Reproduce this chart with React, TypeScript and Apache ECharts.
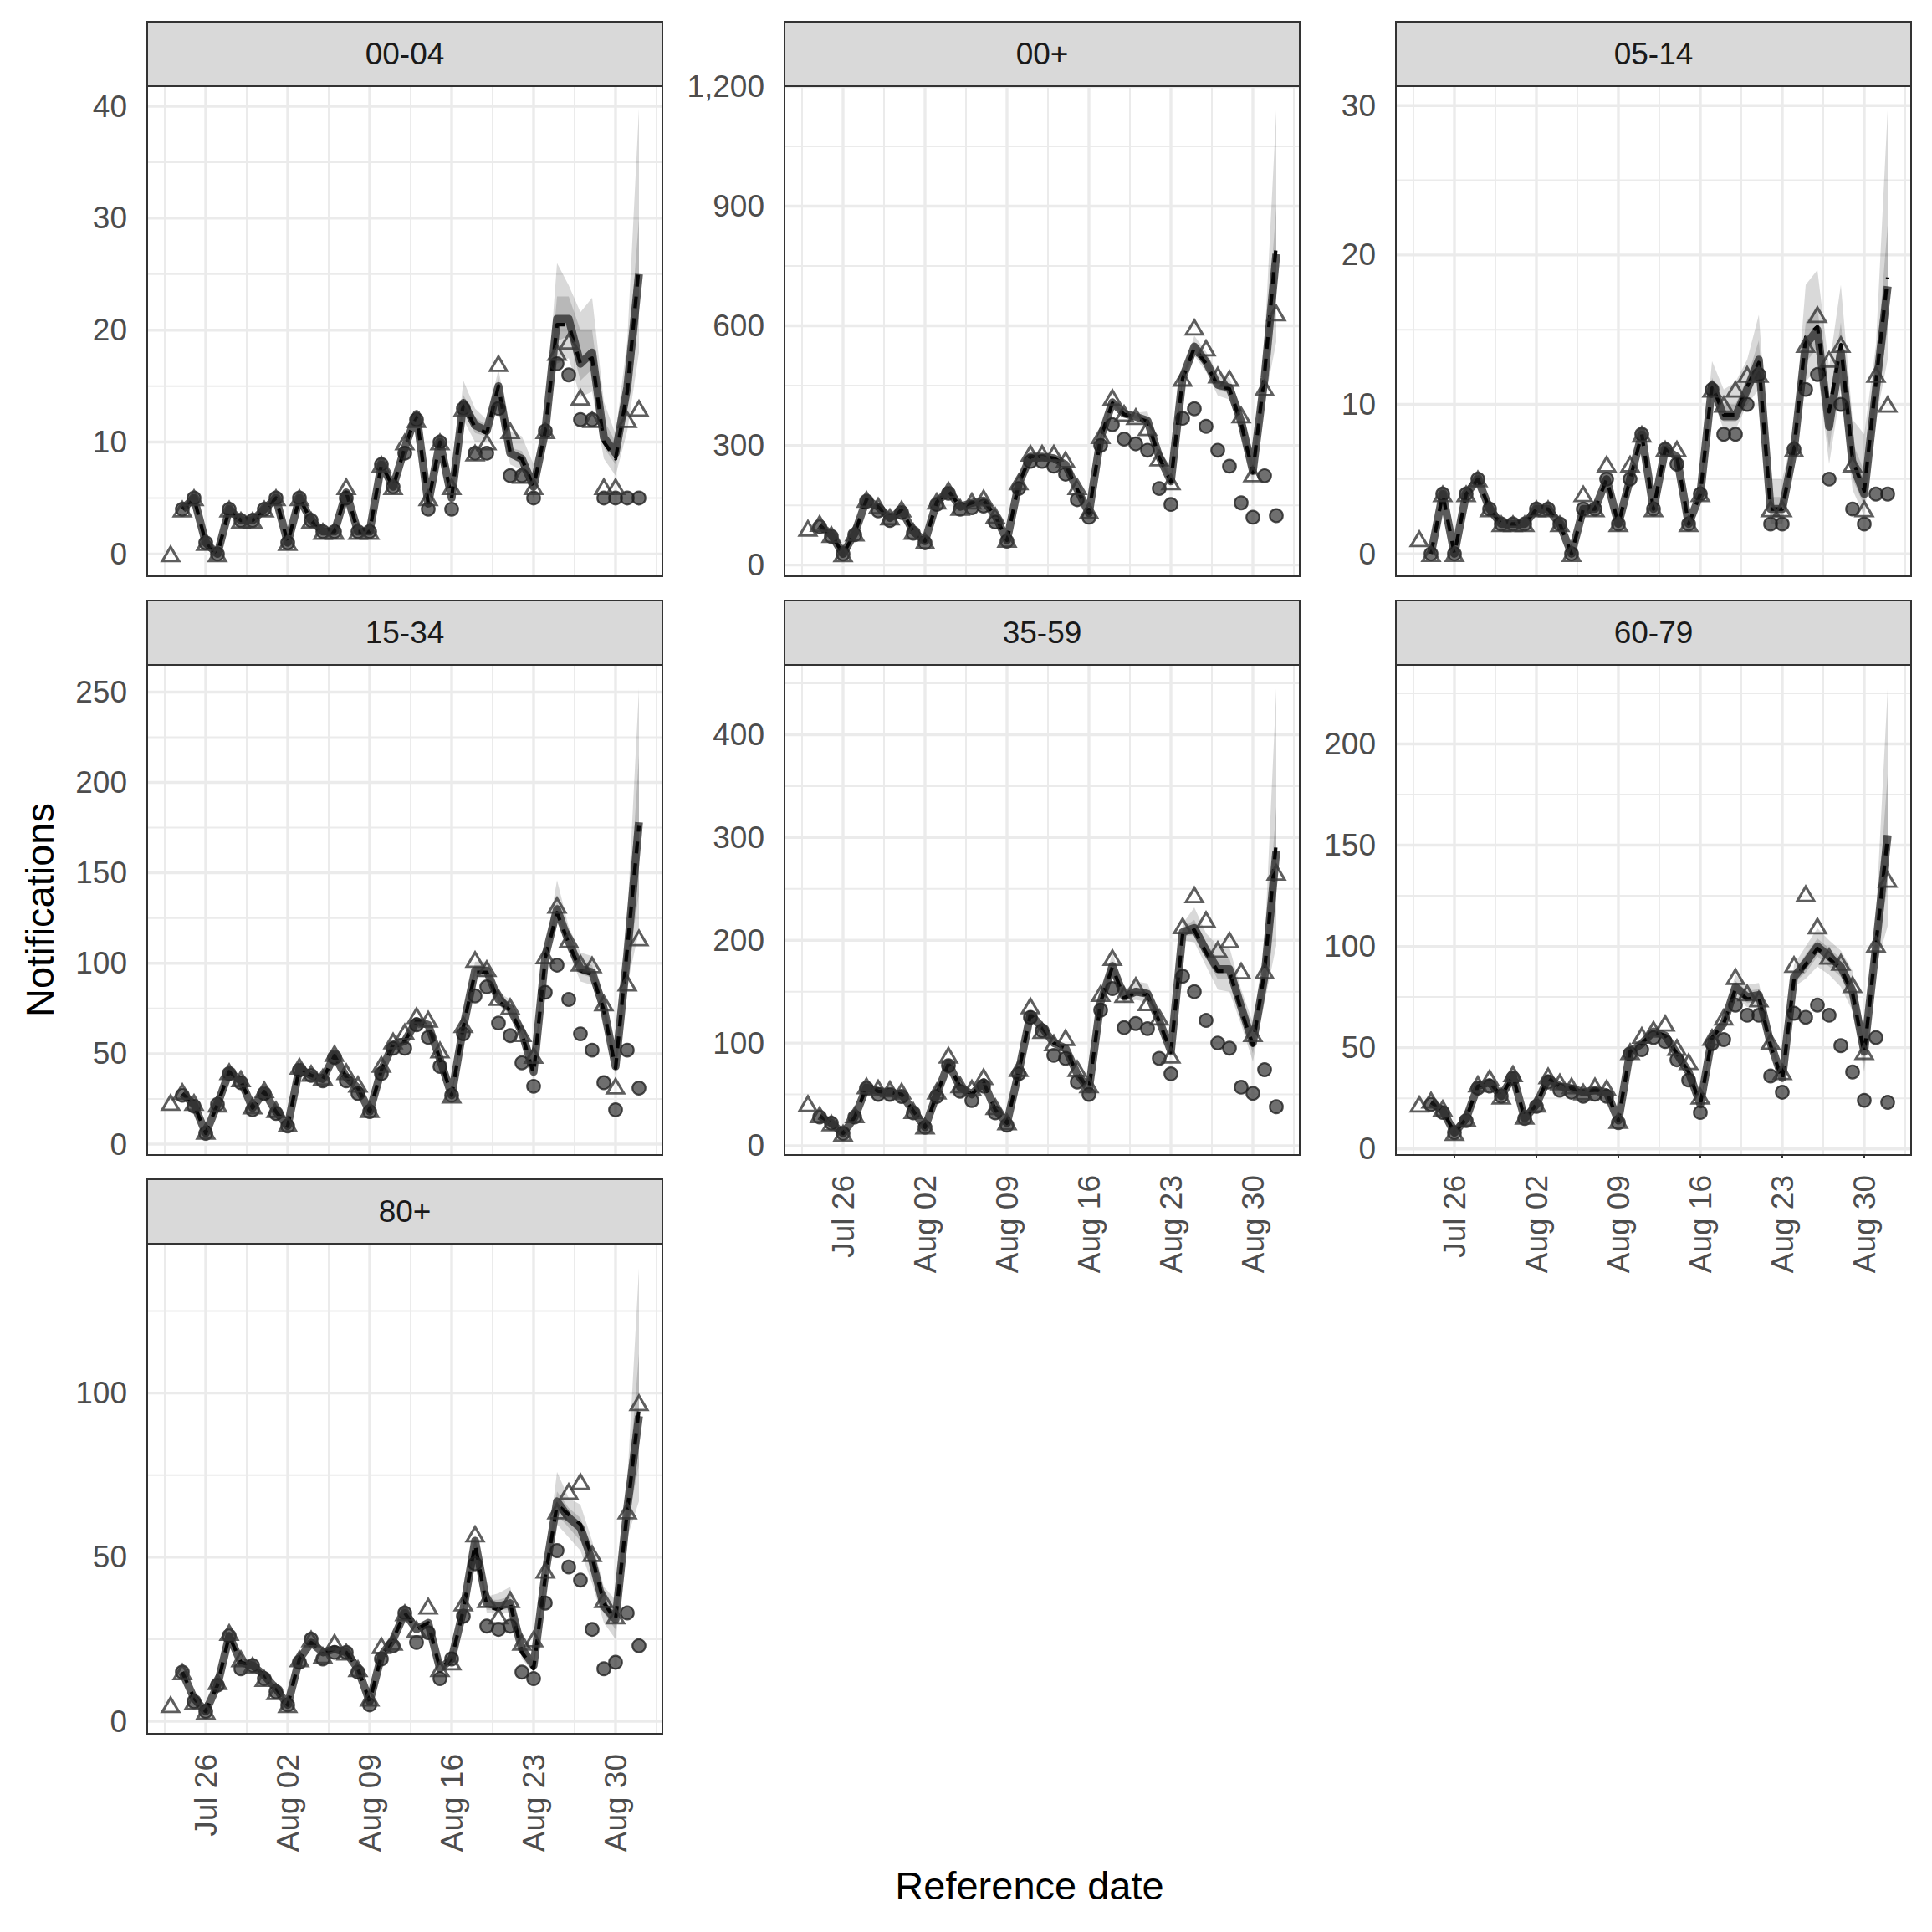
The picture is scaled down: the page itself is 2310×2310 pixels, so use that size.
import React, { useEffect, useRef } from "react";
import * as echarts from "echarts";

// ---------- categories and ticks ----------
const panelNames = ["00-04", "00+", "05-14", "15-34", "35-59", "60-79", "80+"];
// x values are days after Jul 23
const tickDays = [3, 10, 17, 24, 31, 38];
const tickLabels = ["Jul 26", "Aug 02", "Aug 09", "Aug 16", "Aug 23", "Aug 30"];
const minorTickDays = [-0.5, 6.5, 13.5, 20.5, 27.5, 34.5, 41.5];
const xRange = [-2, 42];
const nowcastStartDay = 1;
const ribbonStartDay = 24;

// ---------- 00-04 ----------
const final_00_04 = [0,4,5,1,0,4,3,3,4,5,1,5,3,2,2,6,2,2,8,6,10,12,5,10,6,13,9,10,17,11,7,6,11,18,19,14,12,6,6,12,13];
const observed_00_04 = [4,5,1,0,4,3,3,4,5,1,5,3,2,2,5,2,2,8,6,9,12,4,10,4,13,9,9,13,7,7,5,11,17,16,12,12,5,5,5,5];
const median_00_04 = [4,5,1,0,4,3,3,4,5,1,5,3,2,2,5.5,2,2,8,6,9.5,12.5,4.5,10,5,13.5,11.5,11,15,9,8.5,6,11,21,21,17,18,10.4,9,14.9,25];
const mean_00_04 = [4,5,1,0,4,3,3,4,5,1,5,3,2,2,5.5,2,2,8,6,9.5,12.5,4.5,10,5,13.5,11.3,10.8,15,9,8.5,6,11,20.5,20.5,17,17.5,10,8.5,14.5,25.7];
const q05_00_04 = [4.5,12,10,10,13.5,8,7.5,5,10,17,17.5,14,14.5,8.5,7,11,18];
const q20_00_04 = [4.8,12.8,10.8,10.5,14.3,8.6,8,5.6,10.5,19,19.5,15.5,16.5,9.5,8,13,21];
const q80_00_04 = [5.2,14.2,12.2,11.5,15.8,9.5,9.2,6.5,11.5,23,23,20,20,12,10,16.5,30];
const q95_00_04 = [5.6,15.5,13,12,16.5,11,10.5,8,12,26,24,21.6,22.9,13.6,10.7,19,39.8];
const yTicks_00_04 = [0, 10, 20, 30, 40];
const yMinor_00_04 = [5, 15, 25, 35];
const yLimits_00_04 = [-1.99, 41.8];

// ---------- 00+ ----------
const final_00_plus = [92,104,76,28,80,164,148,120,140,84,60,160,188,144,160,168,124,64,208,280,280,280,264,196,136,324,420,380,372,344,268,208,468,596,544,476,468,376,228,444,632];
const observed_00_plus = [96,72,28,76,160,136,112,132,80,56,152,180,140,144,148,108,60,192,260,260,248,228,164,120,300,352,316,304,288,192,152,368,392,348,288,248,156,120,224,124];
const median_00_plus = [100,76,28,80,164,146,118,138,84,60,158,186,146,156,162,124,62,204,272,272,268,252,190,130,320,408,380,372,362,272,210,470,548,510,452,445,360,236,470,780];
const mean_00_plus = [100,76,28,80,164,146,118,138,84,60,158,186,146,156,162,124,62,204,272,272,268,252,190,130,320,406,378,370,360,270,208,468,545,505,450,442,355,232,480,805];
const q05_00_plus = [126,312,398,372,364,350,262,198,460,525,485,425,415,325,200,410,560];
const q20_00_plus = [128,316,403,376,368,356,267,204,465,537,497,440,430,340,220,440,680];
const q80_00_plus = [132,324,413,384,376,368,277,216,475,560,523,465,455,372,255,510,900];
const q95_00_plus = [136,330,420,390,382,385,285,224,482,575,535,480,470,395,280,560,1140];
const yTicks_00_plus = [0, 300, 600, 900, 1200];
const yMinor_00_plus = [150, 450, 750, 1050];
const yLimits_00_plus = [-28, 1201];

// ---------- 05-14 ----------
const final_05_14 = [1,0,4,0,4,5,3,2,2,2,3,3,2,0,4,3,6,2,6,8,3,7,7,2,4,11,10,11,12,12,3,3,7,14,16,13,14,6,3,12,10];
const observed_05_14 = [0,4,0,4,5,3,2,2,2,3,3,2,0,3,3,5,2,5,8,3,7,6,2,4,11,8,8,10,12,2,2,7,11,12,5,10,3,2,4,4];
const median_05_14 = [0,4,0,4,5,3,2,2,2,3,3,2,0,3,3,5,2,5,8,3,7,6.5,2,4,11.3,9.2,9.2,11,13,3,3,7,14,15,8.5,13.5,6,4,11,17.9];
const mean_05_14 = [0,4,0,4,5,3,2,2,2,3,3,2,0,3,3,5,2,5,8,3,7,6.5,2,4,11.3,9.3,9.3,11.2,12.8,3,3,7,14.5,15.2,9.5,14,6.3,4.2,11.5,18.5];
const q05_05_14 = [3.7,10.5,8.3,8.3,10,11,2,2,6.3,11.5,12.5,6,11,4.3,2.5,9,13];
const q20_05_14 = [3.9,10.9,8.8,8.8,10.5,12,2.5,2.5,6.7,12.8,13.8,7,12.5,5,3.2,10,15];
const q80_05_14 = [4.2,11.8,10,10,11.8,14.3,3.8,3.8,7.4,15.5,16.5,10,15.5,7.5,5.5,12.5,22];
const q95_05_14 = [4.6,12.9,11,11.5,13,16,5,5,8.2,18,19,12.5,18,9,8,14,29.7];
const yTicks_05_14 = [0, 10, 20, 30];
const yMinor_05_14 = [5, 15, 25];
const yLimits_05_14 = [-1.5, 31.3];

// ---------- 15-34 ----------
const final_15_34 = [23,29,23,7,22,40,36,21,30,19,11,43,39,37,50,40,33,19,44,57,62,71,69,52,27,66,102,97,81,76,61,49,104,132,113,100,99,78,32,89,114];
const observed_15_34 = [27,21,6,22,39,34,19,28,17,10,41,38,35,48,35,28,18,39,53,53,66,59,43,27,61,82,87,67,60,45,32,84,99,80,61,52,34,19,52,31];
const median_15_34 = [28,22,6,22,40,35,20,29,18,10,42,38,36,49,37,31,18,41,55,57,68,66,47,27,65,96,96,80,75,62,40,104,130,112,97,95,75,43,105,178];
const mean_15_34 = [28,22,6,22,40,35,20,29,18,10,42,38,36,49,37,31,18,41,55,57,68,66,47,27,65,95,95,79,74,61,39,103,128,111,96,94,74,42,108,176];
const q05_15_34 = [25,63,93,92,77,71,58,36,100,123,106,90,88,68,38,88,118];
const q20_15_34 = [26,64,95,94,79,73,60,38,102,127,109,94,92,72,40,96,138];
const q80_15_34 = [28,66,98,98,82,77,64,42,106,134,115,101,99,79,46,115,215];
const q95_15_34 = [29,68,101,101,84,80,66,45,108,146,120,106,104,82,50,125,252];
const yTicks_15_34 = [0, 50, 100, 150, 200, 250];
const yMinor_15_34 = [25, 75, 125, 175, 225];
const yLimits_15_34 = [-6, 265];

// ---------- 35-59 ----------
const final_35_59 = [41,30,22,12,30,58,56,55,53,34,19,53,88,59,56,67,38,23,75,136,112,100,105,75,59,148,183,147,156,139,125,88,214,244,220,191,200,170,109,170,266];
const observed_35_59 = [28,22,12,28,56,50,50,48,32,18,48,78,53,44,58,32,20,70,125,112,88,85,62,50,132,153,115,119,114,85,70,165,150,122,100,95,57,51,74,38];
const median_35_59 = [29,22,12,28,57,53,52,50,34,18,50,80,57,50,62,35,22,72,128,115,100,95,70,55,140,175,145,150,148,122,92,208,212,190,172,172,135,100,165,287];
const mean_35_59 = [29,22,12,28,57,53,52,50,34,18,50,80,57,50,62,35,22,72,128,115,100,95,70,55,140,174,144,149,147,121,91,206,210,188,170,170,132,98,170,296];
const q05_35_59 = [53,136,165,139,142,140,115,86,200,198,175,152,150,118,82,140,195];
const q20_35_59 = [54,138,170,142,146,144,118,89,204,205,183,162,162,126,90,153,240];
const q80_35_59 = [56,142,180,148,154,152,126,95,212,220,198,182,182,144,110,180,330];
const q95_35_59 = [58,145,188,151,160,158,130,98,216,232,207,195,193,152,120,195,445];
const yTicks_35_59 = [0, 100, 200, 300, 400];
const yMinor_35_59 = [50, 150, 250, 350, 450];
const yLimits_35_59 = [-9, 468];

// ---------- 60-79 ----------
const final_60_79 = [22,24,20,8,15,32,35,26,37,16,22,36,33,31,28,31,30,14,48,56,59,62,50,43,26,55,65,85,77,74,53,38,91,126,110,95,92,81,48,101,133];
const observed_60_79 = [22,18,8,14,30,31,26,35,15,21,33,29,28,26,27,26,13,47,49,55,53,44,34,18,52,54,71,66,66,36,28,67,65,71,66,51,38,24,55,23];
const median_60_79 = [23,19,8,15,31,33,26,36,15,22,35,31,30,28,29,28,14,48,52,58,56,47,38,22,55,62,80,75,76,52,35,85,92,100,95,90,78,48,100,155];
const mean_60_79 = [23,19,8,15,31,33,26,36,15,22,35,31,30,28,29,28,14,48,52,58,56,47,38,22,55,62,79,74,75,51,34,84,91,99,94,89,77,47,101,154];
const q05_60_79 = [21,53,59,75,70,71,48,33,80,84,90,86,80,68,38,90,110];
const q20_60_79 = [21.5,54,60,77,72,73,50,34,82,87,95,90,85,72,42,94,130];
const q80_60_79 = [22.5,56,64,83,78,79,54,36,88,96,104,99,94,83,52,106,185];
const q95_60_79 = [23,57,66,86,81,82,56,38,91,100,109,103,98,88,58,115,227];
const yTicks_60_79 = [0, 50, 100, 150, 200];
const yMinor_60_79 = [25, 75, 125, 175, 225];
const yLimits_60_79 = [-3, 239];

// ---------- 80+ ----------
const final_80_plus = [5,15,6,3,12,27,19,17,13,9,5,19,25,20,24,21,16,7,23,24,33,28,35,16,18,36,57,37,32,37,24,25,46,64,70,73,51,37,32,64,97];
const observed_80_plus = [15,6,3,11,26,16,17,13,9,5,18,25,19,21,21,15,5,19,23,33,24,27,13,19,32,48,29,28,29,15,13,36,52,47,43,28,16,18,33,23];
const median_80_plus = [15,7,3,11,26,18,17,14,10,5,19,24,21,22,21,16,6,20,25,33,28,30,16,19,34,55,36,35,36,22,17,45,67,62,59,49,35,31,65,93];
const mean_80_plus = [15,7,3,11,26,18,17,14,10,5,19,24,21,22,21,16,6,20,25,33,28,30,16,19,34,54,35,34,36,21,16,44,66,63,60,50,36,31,64,95];
const q05_80_plus = [18,33,53,33,33,33,19,15,43,60,56,52,42,30,25,56,67];
const q20_80_plus = [18.5,33.5,54,34,34,34,20,16,44,63,59,55,46,33,28,60,78];
const q80_80_plus = [19.5,35,56,37,37,38,23,18,46,70,65,62,52,38,34,69,112];
const q95_80_plus = [20,35.5,57,38,39,41,25,19,47,76,68,66,55,41,37,73,138];
const yTicks_80_plus = [0, 50, 100];
const yMinor_80_plus = [25, 75, 125];
const yLimits_80_plus = [-3.8, 145.5];

const panels = [
  { final: final_00_04, obs: observed_00_04, med: median_00_04, mean: mean_00_04, q05: q05_00_04, q20: q20_00_04, q80: q80_00_04, q95: q95_00_04, ticks: yTicks_00_04, minor: yMinor_00_04, lim: yLimits_00_04 },
  { final: final_00_plus, obs: observed_00_plus, med: median_00_plus, mean: mean_00_plus, q05: q05_00_plus, q20: q20_00_plus, q80: q80_00_plus, q95: q95_00_plus, ticks: yTicks_00_plus, minor: yMinor_00_plus, lim: yLimits_00_plus },
  { final: final_05_14, obs: observed_05_14, med: median_05_14, mean: mean_05_14, q05: q05_05_14, q20: q20_05_14, q80: q80_05_14, q95: q95_05_14, ticks: yTicks_05_14, minor: yMinor_05_14, lim: yLimits_05_14 },
  { final: final_15_34, obs: observed_15_34, med: median_15_34, mean: mean_15_34, q05: q05_15_34, q20: q20_15_34, q80: q80_15_34, q95: q95_15_34, ticks: yTicks_15_34, minor: yMinor_15_34, lim: yLimits_15_34 },
  { final: final_35_59, obs: observed_35_59, med: median_35_59, mean: mean_35_59, q05: q05_35_59, q20: q20_35_59, q80: q80_35_59, q95: q95_35_59, ticks: yTicks_35_59, minor: yMinor_35_59, lim: yLimits_35_59 },
  { final: final_60_79, obs: observed_60_79, med: median_60_79, mean: mean_60_79, q05: q05_60_79, q20: q20_60_79, q80: q80_60_79, q95: q95_60_79, ticks: yTicks_60_79, minor: yMinor_60_79, lim: yLimits_60_79 },
  { final: final_80_plus, obs: observed_80_plus, med: median_80_plus, mean: mean_80_plus, q05: q05_80_plus, q20: q20_80_plus, q80: q80_80_plus, q95: q95_80_plus, ticks: yTicks_80_plus, minor: yMinor_80_plus, lim: yLimits_80_plus },
];

// ---------- layout ----------
const COL_LEFT = [176, 938, 1669];
const ROW_TOP = [103, 795, 1487];
const PW = 616;
const PH = 586;
const STRIP_H = 77;
const X_LABEL_PANELS = [4, 5, 6];
const FONT = '"Liberation Sans", Arial, Helvetica, sans-serif';

function buildOption() {
  const grids: any[] = [];
  const xAxes: any[] = [];
  const yAxes: any[] = [];
  const series: any[] = [];
  const graphics: any[] = [];

  panels.forEach((p, k) => {
    const col = k % 3;
    const row = Math.floor(k / 3);
    const left = COL_LEFT[col];
    const top = ROW_TOP[row];
    const showX = X_LABEL_PANELS.indexOf(k) >= 0;

    grids.push({ left, top, width: PW, height: PH, show: false, containLabel: false, outerBoundsMode: "none" });

    xAxes.push({
      type: "value",
      gridIndex: k,
      min: xRange[0],
      max: xRange[1],
      splitLine: { show: false },
      axisLine: { show: false },
      axisTick: { show: showX, length: 11, lineStyle: { color: "#333333", width: 2 }, customValues: tickDays },
      axisLabel: {
        show: showX,
        customValues: tickDays,
        rotate: 90,
        margin: 24,
        fontSize: 37,
        fontFamily: FONT,
        color: "#4D4D4D",
        formatter: (v: number) => {
          const idx = tickDays.indexOf(Math.round(v));
          return idx >= 0 ? tickLabels[idx] : "";
        },
      },
    });

    yAxes.push({
      type: "value",
      gridIndex: k,
      min: p.lim[0],
      max: p.lim[1],
      splitLine: { show: false },
      axisLine: { show: false },
      axisTick: { show: true, length: 11, lineStyle: { color: "#333333", width: 2 }, customValues: p.ticks },
      axisLabel: {
        show: true,
        customValues: p.ticks,
        margin: 24,
        fontSize: 37,
        fontFamily: FONT,
        color: "#4D4D4D",
        formatter: (v: number) => Number(v).toLocaleString("en-US"),
      },
    });

    // grid lines
    series.push({
      type: "custom",
      xAxisIndex: k,
      yAxisIndex: k,
      silent: true,
      clip: true,
      z: 1,
      data: [[0, 0]],
      renderItem: (_params: any, api: any) => {
        const children: any[] = [];
        const h = (v: number, w: number) => {
          const a = api.coord([xRange[0], v]);
          const b = api.coord([xRange[1], v]);
          children.push({ type: "line", shape: { x1: a[0], y1: a[1], x2: b[0], y2: b[1] }, style: { stroke: "#EBEBEB", lineWidth: w } });
        };
        const vline = (d: number, w: number) => {
          const a = api.coord([d, p.lim[0]]);
          const b = api.coord([d, p.lim[1]]);
          children.push({ type: "line", shape: { x1: a[0], y1: a[1], x2: b[0], y2: b[1] }, style: { stroke: "#EBEBEB", lineWidth: w } });
        };
        p.minor.forEach((v) => h(v, 2));
        minorTickDays.forEach((d) => vline(d, 2));
        p.ticks.forEach((v) => h(v, 3.4));
        tickDays.forEach((d) => vline(d, 3.4));
        return { type: "group", children };
      },
    });

    const ribbon = (lower: number[], upper: number[], z: number) => ({
      type: "custom",
      xAxisIndex: k,
      yAxisIndex: k,
      silent: true,
      clip: true,
      z,
      data: [[ribbonStartDay, lower[0]]],
      renderItem: (_params: any, api: any) => {
        const pts: number[][] = [];
        for (let j = 0; j < upper.length; j++) pts.push(api.coord([ribbonStartDay + j, upper[j]]));
        for (let j = lower.length - 1; j >= 0; j--) pts.push(api.coord([ribbonStartDay + j, lower[j]]));
        return { type: "polygon", shape: { points: pts }, style: { fill: "rgba(0,0,0,0.15)" } };
      },
    });
    series.push(ribbon(p.q05, p.q95, 2));
    series.push(ribbon(p.q20, p.q80, 3));

    series.push({
      type: "line",
      xAxisIndex: k,
      yAxisIndex: k,
      silent: true,
      symbol: "none",
      z: 4,
      data: p.med.map((v, j) => [nowcastStartDay + j, v]),
      lineStyle: { color: "rgba(45,45,45,0.78)", width: 9.5, join: "round", cap: "butt" },
    });
    series.push({
      type: "line",
      xAxisIndex: k,
      yAxisIndex: k,
      silent: true,
      symbol: "none",
      z: 5,
      data: p.mean.map((v, j) => [nowcastStartDay + j, v]),
      lineStyle: { color: "#050505", width: 4.2, type: [14, 12], join: "round", cap: "butt" },
    });
    series.push({
      type: "scatter",
      xAxisIndex: k,
      yAxisIndex: k,
      silent: true,
      symbol: "circle",
      symbolSize: 15.5,
      z: 6,
      data: p.obs.map((v, j) => [nowcastStartDay + j, v]),
      itemStyle: { color: "rgba(30,30,30,0.8)", borderColor: "#1f1f1f", borderWidth: 2.2 },
    });
    series.push({
      type: "scatter",
      xAxisIndex: k,
      yAxisIndex: k,
      silent: true,
      symbol: "triangle",
      symbolSize: [20, 17],
      z: 7,
      data: p.final.map((v, j) => [j, v]),
      itemStyle: { color: "rgba(0,0,0,0)", borderColor: "#363636", borderWidth: 3 },
    });

    // strip
    graphics.push({
      type: "rect",
      z: 100,
      shape: { x: left, y: top - STRIP_H, width: PW, height: STRIP_H },
      style: { fill: "#D9D9D9", stroke: "#333333", lineWidth: 2 },
    });
    graphics.push({
      type: "text",
      z: 101,
      x: left + PW / 2,
      y: top - STRIP_H / 2,
      style: { text: panelNames[k], font: `37px ${FONT}`, fill: "#1A1A1A", textAlign: "center", textVerticalAlign: "middle" },
    });
    // panel border
    graphics.push({
      type: "rect",
      z: 100,
      shape: { x: left, y: top, width: PW, height: PH },
      style: { fill: "none", stroke: "#333333", lineWidth: 2 },
    });
  });

  graphics.push({
    type: "text",
    z: 101,
    x: 47,
    y: 1088,
    rotation: Math.PI / 2,
    style: { text: "Notifications", font: `47px ${FONT}`, fill: "#000000", textAlign: "center", textVerticalAlign: "middle" },
  });
  graphics.push({
    type: "text",
    z: 101,
    x: 1231,
    y: 2254,
    style: { text: "Reference date", font: `47px ${FONT}`, fill: "#000000", textAlign: "center", textVerticalAlign: "middle" },
  });

  return {
    animation: false,
    backgroundColor: "#ffffff",
    grid: grids,
    xAxis: xAxes,
    yAxis: yAxes,
    series,
    graphic: { elements: graphics },
  };
}

export default function App() {
  const ref = useRef<HTMLDivElement>(null);
  useEffect(() => {
    document.body.style.margin = "0";
    const chart = echarts.init(ref.current as HTMLDivElement, null, { renderer: "svg" });
    chart.setOption(buildOption() as any);
    return () => chart.dispose();
  }, []);
  return <div ref={ref} style={{ width: 2310, height: 2310 }} />;
}
